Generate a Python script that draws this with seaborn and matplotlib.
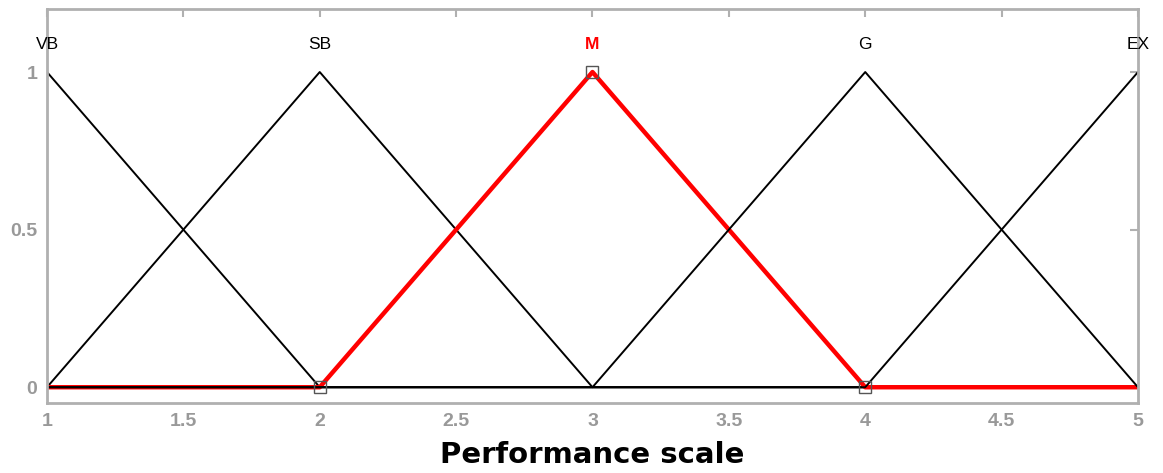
import pandas as pd
import seaborn as sns
import matplotlib.pyplot as plt

# performance scale points and membership grades (triangular MFs)
scale = [1, 2, 3, 4, 5]
mf_names = ["VB", "SB", "M", "G", "EX"]
mf_peaks = [1, 2, 3, 4, 5]
vb = [1, 0, 0, 0, 0]
sb = [0, 1, 0, 0, 0]
m = [0, 0, 1, 0, 0]
g = [0, 0, 0, 1, 0]
ex = [0, 0, 0, 0, 1]
selected = "M"
m_vertices_x = [2, 3, 4]
m_vertices_y = [0, 1, 0]

sns.set_style("white")
plt.rcParams['font.family'] = ['Liberation Sans', 'DejaVu Sans']

fig = plt.figure(figsize=(11.63, 4.73), dpi=100)
ax = fig.add_axes([0.0404, 0.148, 0.9381, 0.833])

grades = {"VB": vb, "SB": sb, "M": m, "G": g, "EX": ex}
# drawn in order, like the fuzzy toolbox does, so later lines sit on top
for i, name in enumerate(mf_names):
    df = pd.DataFrame({"x": scale, "y": grades[name]})
    if name == selected:
        sns.lineplot(data=df, x="x", y="y", ax=ax, color="red", linewidth=3.2,
                     estimator=None, sort=False, zorder=2 + i * 0.1)
    else:
        sns.lineplot(data=df, x="x", y="y", ax=ax, color="black", linewidth=1.4,
                     estimator=None, sort=False, zorder=2 + i * 0.1)

ax.plot(m_vertices_x, m_vertices_y, linestyle="none", marker="s", markersize=9,
        markerfacecolor="none", markeredgecolor="#555555", markeredgewidth=1.0, zorder=4)

for name, peak in zip(mf_names, mf_peaks):
    if name == selected:
        ax.text(peak, 1.086, name, color="red", fontweight="bold", fontsize=12.5,
                ha="center", va="center")
    else:
        ax.text(peak, 1.086, name, color="black", fontsize=12.5,
                ha="center", va="center")

ax.set_xlim(1, 5)
ax.set_ylim(-0.05, 1.2)
ax.set_xticks([1, 1.5, 2, 2.5, 3, 3.5, 4, 4.5, 5])
ax.set_xticklabels(["1", "1.5", "2", "2.5", "3", "3.5", "4", "4.5", "5"])
ax.set_yticks([0, 0.5, 1])
ax.set_yticklabels(["0", "0.5", "1"])
ax.tick_params(direction="in", length=6, width=1.5, color="#b0b0b0",
               labelcolor="#999999", labelsize=14, top=True, right=True, pad=7)
for lab in ax.get_xticklabels() + ax.get_yticklabels():
    lab.set_fontweight("semibold")
for sp in ax.spines.values():
    sp.set_color("#b0b0b0")
    sp.set_linewidth(2)
ax.set_ylabel("")
ax.set_xlabel("Performance scale", fontsize=21, fontweight="bold", color="black",
              family=["DejaVu Sans"], labelpad=8)

fig.savefig("out.png", dpi=100)
